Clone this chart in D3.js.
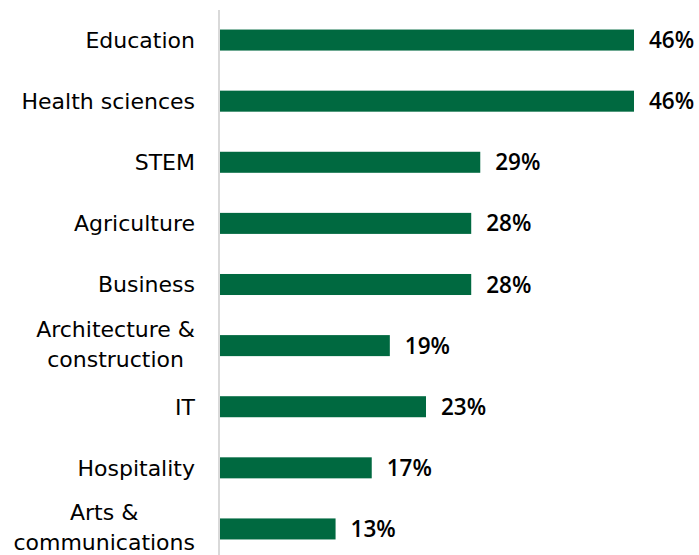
<!DOCTYPE html>
<html>
<head>
<meta charset="utf-8">
<script src="https://cdn.jsdelivr.net/npm/d3@7"></script>
<style>
  html, body { margin: 0; padding: 0; background: #fff; }
  svg { display: block; }
</style>
</head>
<body>
<svg id="chart" width="699" height="555"></svg>
<script>
// Share of respondents by field of study
const categories = [
  ["Education"],
  ["Health sciences"],
  ["STEM"],
  ["Agriculture"],
  ["Business"],
  ["Architecture &", "construction"],
  ["IT"],
  ["Hospitality"],
  ["Arts &", "communications"]
];
const values = [46, 46, 29, 28, 28, 19, 23, 17, 13];
const valueLabels = ["46%", "46%", "29%", "28%", "28%", "19%", "23%", "17%", "13%"];

const svg = d3.select("#chart");
const keys = categories.map(c => c.join(" "));

const x = d3.scaleLinear().domain([0, 46]).range([218, 634]);
const y = d3.scaleBand().domain(keys).range([9.5, 559.5])
  .paddingInner(0.656).paddingOuter(0.328);

// bars
svg.selectAll("rect.bar").data(values).join("rect")
  .attr("class", "bar")
  .attr("x", x(0))
  .attr("y", (d, i) => y(keys[i]))
  .attr("width", d => x(d) - x(0))
  .attr("height", y.bandwidth())
  .attr("fill", "#006940");

// vertical baseline
svg.append("line")
  .attr("x1", 219).attr("x2", 219)
  .attr("y1", 10).attr("y2", 555)
  .attr("stroke", "#d9d9d9").attr("stroke-width", 2);

// value labels
svg.selectAll("text.val").data(values).join("text")
  .attr("class", "val")
  .attr("x", d => x(d) + 15)
  .attr("y", (d, i) => y(keys[i]) + y.bandwidth() / 2)
  .attr("dy", "0.36em")
  .attr("font-family", "Open Sans, sans-serif")
  .attr("font-weight", 600)
  .attr("font-size", 22.5)
  .attr("fill", "#000")
  .text((d, i) => valueLabels[i]);

// category labels: right-aligned block, multi-line labels centred within it
const labelRight = 195;
const lab = svg.selectAll("text.cat").data(categories).join("text")
  .attr("class", "cat")
  .attr("font-family", "DejaVu Sans, sans-serif")
  .attr("font-size", 22)
  .attr("fill", "#000");

lab.each(function(lines, i) {
  const cy = y(keys[i]) + y.bandwidth() / 2;
  const lh = 30;
  const t = d3.select(this);
  const spans = lines.map((s, j) => t.append("tspan")
    .attr("y", cy + (j - (lines.length - 1) / 2) * lh - (lines.length > 1 ? 2 : 0))
    .attr("dy", "0.36em")
    .text(s));
  if (lines.length === 1) {
    t.attr("text-anchor", "end");
    spans[0].attr("x", labelRight);
  } else {
    const w = d3.max(spans, sp => sp.node().getComputedTextLength());
    t.attr("text-anchor", "middle");
    spans.forEach(sp => sp.attr("x", labelRight - w / 2));
  }
});
</script>
</body>
</html>
